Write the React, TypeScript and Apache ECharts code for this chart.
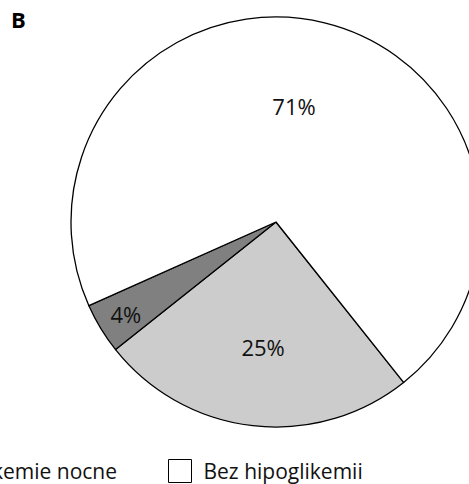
import React, { useEffect, useRef } from "react";
import * as echarts from "echarts";

// Share of patients by hypoglycaemia category (panel B)
const categories = ["Hipoglikemie nocne", "Hipoglikemie dzienne", "Bez hipoglikemii"];
const shares = [25, 4, 71];
const sliceColors = ["#cccccc", "#808080", "#ffffff"];
// per-slice label nudges away from the default mid-radius spot
const labelOffsets: [number, number][] = [
  [-1, 20],
  [-60, 37],
  [-7, -14],
];

const FONT = "'Open Sans', 'Noto Sans', sans-serif";

export default function App() {
  const ref = useRef<HTMLDivElement>(null);

  useEffect(() => {
    document.body.style.margin = "0";
    if (!ref.current) return;
    const chart = echarts.init(ref.current, undefined, { renderer: "svg" });

    const legendCommon = {
      orient: "horizontal" as const,
      padding: 0,
      top: 459,
      icon: "rect",
      itemWidth: 23,
      itemHeight: 23,
      selectedMode: false,
      itemStyle: { borderColor: "#000", borderWidth: 1 },
      textStyle: {
        fontFamily: FONT,
        fontSize: 21,
        color: "#111",
        padding: [0, 0, 0, 7],
      },
    };

    chart.setOption({
      animation: false,
      backgroundColor: "#fff",
      title: {
        text: "B",
        left: 11,
        top: 8,
        padding: 0,
        textStyle: { fontFamily: FONT, fontSize: 22, fontWeight: "bold", color: "#000" },
      },
      legend: [
        { ...legendCommon, data: [categories[1]], right: 580 },
        { ...legendCommon, data: [categories[0]], right: 352 },
        { ...legendCommon, data: [categories[2]], left: 168 },
      ],
      series: [
        {
          type: "pie",
          center: [276, 222],
          radius: 205,
          startAngle: -51.5,
          clockwise: true,
          label: {
            show: true,
            position: "inside",
            formatter: "{c}%",
            fontFamily: FONT,
            fontSize: 22,
            color: "#111",
          },
          labelLine: { show: false },
          itemStyle: { borderColor: "#000", borderWidth: 1.3 },
          emphasis: { disabled: true },
          data: categories.map((name, i) => ({
            name,
            value: shares[i],
            itemStyle: { color: sliceColors[i] },
            label: { offset: labelOffsets[i] },
          })),
        },
      ],
    });

    return () => chart.dispose();
  }, []);

  return <div ref={ref} style={{ width: 469, height: 484 }} />;
}
